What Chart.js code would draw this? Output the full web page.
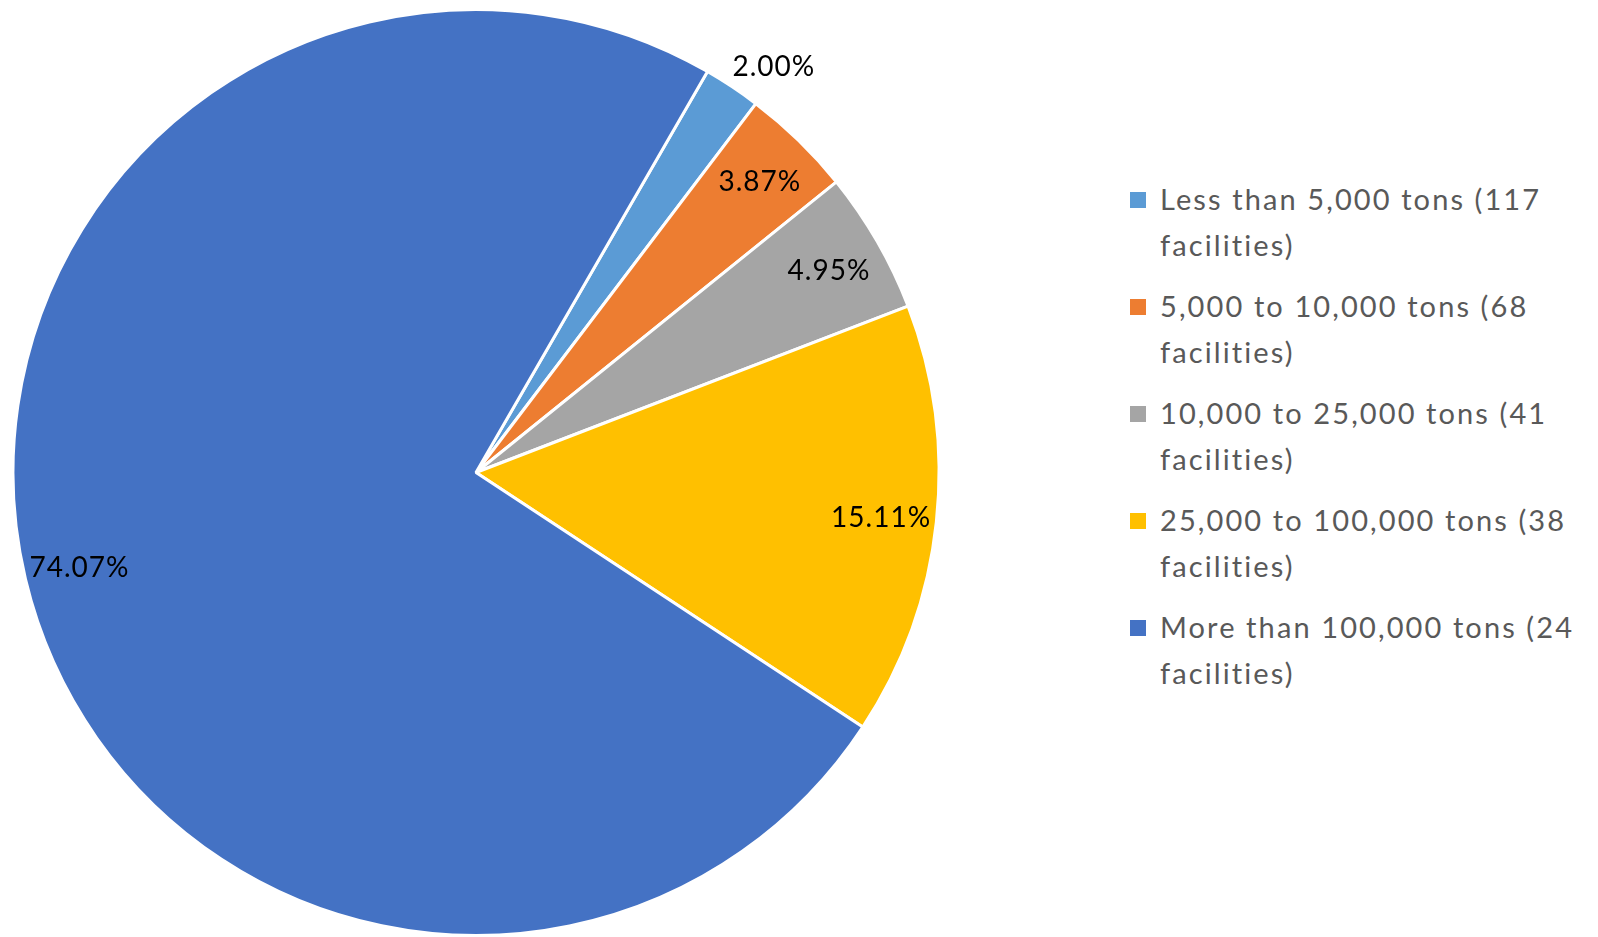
<!DOCTYPE html>
<html>
<head>
<script src="https://cdn.jsdelivr.net/npm/chart.js@4.4.0/dist/chart.umd.min.js"></script>
<style>
  html, body { margin: 0; padding: 0; background: #fff; }
  body { width: 1598px; height: 937px; position: relative; overflow: hidden; font-family: Lato, "Open Sans", sans-serif; }
  #wrap { position: absolute; left: 0; top: 0; width: 952px; height: 937px; }
  #legend { position: absolute; left: 1128px; top: 176px; width: 465px; color: #595959; font-size: 29px; letter-spacing: 2.1px; }
  .item { position: relative; padding-left: 32px; line-height: 46px; height: 107px; }
  .box { position: absolute; left: 2px; top: 16px; width: 16px; height: 16px; }
</style>
</head>
<body>
  <div id="wrap"><canvas id="myChart"></canvas></div>
  <div id="legend"></div>
  <script>
    var labels = [
      "Less than 5,000 tons (117 facilities)",
      "5,000 to 10,000 tons (68 facilities)",
      "10,000 to 25,000 tons (41 facilities)",
      "25,000 to 100,000 tons (38 facilities)",
      "More than 100,000 tons (24 facilities)"
    ];
    var shares = [2.00, 3.87, 4.95, 15.11, 74.07];
    var colors = ["#5B9BD5", "#ED7D31", "#A5A5A5", "#FFC000", "#4472C4"];

    // percent labels: inside near the rim, tiny slices go outside
    var pctLabels = {
      id: "pctLabels",
      afterDraw: function(chart) {
        var ctx = chart.ctx;
        var meta = chart.getDatasetMeta(0);
        ctx.save();
        ctx.font = "28px Lato, 'Open Sans', sans-serif";
        ctx.letterSpacing = "1px";
        ctx.fillStyle = "#000";
        ctx.textAlign = "center";
        ctx.textBaseline = "middle";
        meta.data.forEach(function(arc, i) {
          var p = arc.getProps(["x", "y", "startAngle", "endAngle", "outerRadius"], true);
          var mid = (p.startAngle + p.endAngle) / 2;
          var outside = shares[i] < 3;
          var f = outside ? 1.09 : 0.88;
          var off = outside ? 0.045 : 0;
          ctx.fillText(shares[i].toFixed(2) + "%",
            p.x + Math.cos(mid + off) * p.outerRadius * f,
            p.y + Math.sin(mid + off) * p.outerRadius * f + 2);
        });
        ctx.restore();
      }
    };

    var ctx = document.getElementById("myChart").getContext("2d");
    var chart = new Chart(ctx, {
      type: "pie",
      data: {
        labels: labels,
        datasets: [{
          data: shares,
          backgroundColor: colors,
          borderColor: "#fff",
          borderWidth: 3
        }]
      },
      options: {
        responsive: true,
        maintainAspectRatio: false,
        animation: false,
        rotation: 30,
        layout: { padding: { top: 8, bottom: 0, left: 0, right: 0 } },
        plugins: {
          legend: { display: false },
          tooltip: { enabled: false }
        }
      },
      plugins: [pctLabels]
    });

    var legend = document.getElementById("legend");
    labels.forEach(function(t, i) {
      var d = document.createElement("div");
      d.className = "item";
      d.innerHTML = '<span class="box" style="background:' + colors[i] + '"></span>' + t;
      legend.appendChild(d);
    });
  </script>
</body>
</html>
